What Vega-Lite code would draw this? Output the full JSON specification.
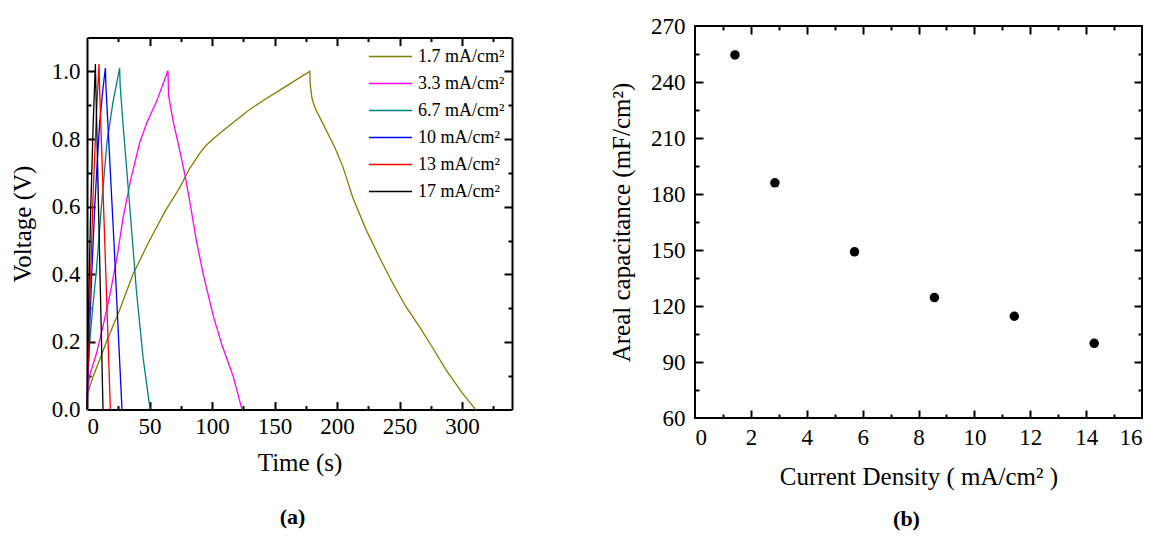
{
  "$schema": "https://vega.github.io/schema/vega-lite/v6.json",
  "padding": {"left": 10, "top": 14, "right": 5, "bottom": 5},
  "spacing": 95,
  "config": {
    "font": "Liberation Serif",
    "view": {"stroke": "black", "strokeWidth": 2},
    "axis": {
      "labelFont": "Liberation Serif", "titleFont": "Liberation Serif",
      "labelFontSize": 23, "titleFontSize": 25, "labelColor": "black", "titleColor": "black",
      "titleFontWeight": "normal", "tickColor": "black", "tickWidth": 2, "domain": false, "grid": false,
      "domainColor": "black", "domainWidth": 2
    },
    "title": {"font": "Liberation Serif", "color": "black"}
  },
  "datasets": {
    "gcd": [
      {"series": "1.7 mA/cm²", "t": 0, "v": 0}, {"series": "1.7 mA/cm²", "t": 0.5, "v": 0.04}, {"series": "1.7 mA/cm²", "t": 2.1, "v": 0.067}, {"series": "1.7 mA/cm²", "t": 4.8, "v": 0.097}, {"series": "1.7 mA/cm²", "t": 10, "v": 0.146}, {"series": "1.7 mA/cm²", "t": 15.5, "v": 0.2}, {"series": "1.7 mA/cm²", "t": 26, "v": 0.294}, {"series": "1.7 mA/cm²", "t": 36.8, "v": 0.4}, {"series": "1.7 mA/cm²", "t": 50, "v": 0.5}, {"series": "1.7 mA/cm²", "t": 63, "v": 0.59}, {"series": "1.7 mA/cm²", "t": 74, "v": 0.655}, {"series": "1.7 mA/cm²", "t": 82, "v": 0.712}, {"series": "1.7 mA/cm²", "t": 90, "v": 0.757}, {"series": "1.7 mA/cm²", "t": 95, "v": 0.78}, {"series": "1.7 mA/cm²", "t": 100.8, "v": 0.8}, {"series": "1.7 mA/cm²", "t": 108, "v": 0.822}, {"series": "1.7 mA/cm²", "t": 114, "v": 0.84}, {"series": "1.7 mA/cm²", "t": 127.5, "v": 0.88}, {"series": "1.7 mA/cm²", "t": 140, "v": 0.912}, {"series": "1.7 mA/cm²", "t": 154, "v": 0.944}, {"series": "1.7 mA/cm²", "t": 166, "v": 0.972}, {"series": "1.7 mA/cm²", "t": 178.2, "v": 1.0}, {"series": "1.7 mA/cm²", "t": 178.6, "v": 0.96}, {"series": "1.7 mA/cm²", "t": 180, "v": 0.92}, {"series": "1.7 mA/cm²", "t": 182.2, "v": 0.894}, {"series": "1.7 mA/cm²", "t": 188.8, "v": 0.845}, {"series": "1.7 mA/cm²", "t": 198.2, "v": 0.776}, {"series": "1.7 mA/cm²", "t": 204.8, "v": 0.717}, {"series": "1.7 mA/cm²", "t": 212.8, "v": 0.625}, {"series": "1.7 mA/cm²", "t": 223.5, "v": 0.53}, {"series": "1.7 mA/cm²", "t": 234, "v": 0.45}, {"series": "1.7 mA/cm²", "t": 244.8, "v": 0.372}, {"series": "1.7 mA/cm²", "t": 255, "v": 0.305}, {"series": "1.7 mA/cm²", "t": 266.2, "v": 0.244}, {"series": "1.7 mA/cm²", "t": 277, "v": 0.18}, {"series": "1.7 mA/cm²", "t": 287.5, "v": 0.116}, {"series": "1.7 mA/cm²", "t": 300, "v": 0.05}, {"series": "1.7 mA/cm²", "t": 311, "v": 0},
      {"series": "3.3 mA/cm²", "t": 0, "v": 0}, {"series": "3.3 mA/cm²", "t": 0.5, "v": 0.05}, {"series": "3.3 mA/cm²", "t": 2, "v": 0.1}, {"series": "3.3 mA/cm²", "t": 7.5, "v": 0.165}, {"series": "3.3 mA/cm²", "t": 13, "v": 0.25}, {"series": "3.3 mA/cm²", "t": 18.5, "v": 0.343}, {"series": "3.3 mA/cm²", "t": 24, "v": 0.45}, {"series": "3.3 mA/cm²", "t": 29, "v": 0.57}, {"series": "3.3 mA/cm²", "t": 35, "v": 0.68}, {"series": "3.3 mA/cm²", "t": 42.2, "v": 0.79}, {"series": "3.3 mA/cm²", "t": 48, "v": 0.85}, {"series": "3.3 mA/cm²", "t": 55.5, "v": 0.91}, {"series": "3.3 mA/cm²", "t": 64.8, "v": 1.003}, {"series": "3.3 mA/cm²", "t": 65.2, "v": 0.93}, {"series": "3.3 mA/cm²", "t": 68.8, "v": 0.855}, {"series": "3.3 mA/cm²", "t": 74.2, "v": 0.766}, {"series": "3.3 mA/cm²", "t": 78, "v": 0.7}, {"series": "3.3 mA/cm²", "t": 82, "v": 0.62}, {"series": "3.3 mA/cm²", "t": 87.5, "v": 0.5}, {"series": "3.3 mA/cm²", "t": 93, "v": 0.4}, {"series": "3.3 mA/cm²", "t": 100.8, "v": 0.28}, {"series": "3.3 mA/cm²", "t": 108, "v": 0.19}, {"series": "3.3 mA/cm²", "t": 116.8, "v": 0.1}, {"series": "3.3 mA/cm²", "t": 124, "v": 0},
      {"series": "6.7 mA/cm²", "t": 0, "v": 0}, {"series": "6.7 mA/cm²", "t": 0.8, "v": 0.1}, {"series": "6.7 mA/cm²", "t": 2.2, "v": 0.2}, {"series": "6.7 mA/cm²", "t": 4.5, "v": 0.3}, {"series": "6.7 mA/cm²", "t": 7.5, "v": 0.41}, {"series": "6.7 mA/cm²", "t": 11.5, "v": 0.6}, {"series": "6.7 mA/cm²", "t": 16, "v": 0.79}, {"series": "6.7 mA/cm²", "t": 20.8, "v": 0.91}, {"series": "6.7 mA/cm²", "t": 26.1, "v": 1.01}, {"series": "6.7 mA/cm²", "t": 26.5, "v": 0.96}, {"series": "6.7 mA/cm²", "t": 28.8, "v": 0.845}, {"series": "6.7 mA/cm²", "t": 34.2, "v": 0.6}, {"series": "6.7 mA/cm²", "t": 39.5, "v": 0.353}, {"series": "6.7 mA/cm²", "t": 44.8, "v": 0.155}, {"series": "6.7 mA/cm²", "t": 50.5, "v": 0},
      {"series": "10  mA/cm²", "t": 0, "v": 0}, {"series": "10  mA/cm²", "t": 1, "v": 0.12}, {"series": "10  mA/cm²", "t": 2.2, "v": 0.25}, {"series": "10  mA/cm²", "t": 4, "v": 0.42}, {"series": "10  mA/cm²", "t": 6.2, "v": 0.6}, {"series": "10  mA/cm²", "t": 8, "v": 0.72}, {"series": "10  mA/cm²", "t": 10.2, "v": 0.85}, {"series": "10  mA/cm²", "t": 12.5, "v": 0.94}, {"series": "10  mA/cm²", "t": 14.7, "v": 1.01}, {"series": "10  mA/cm²", "t": 15.1, "v": 0.96}, {"series": "10  mA/cm²", "t": 21.5, "v": 0.5}, {"series": "10  mA/cm²", "t": 28, "v": 0},
      {"series": "13  mA/cm²", "t": 0, "v": 0}, {"series": "13  mA/cm²", "t": 1, "v": 0.15}, {"series": "13  mA/cm²", "t": 2.5, "v": 0.35}, {"series": "13  mA/cm²", "t": 5, "v": 0.65}, {"series": "13  mA/cm²", "t": 7.5, "v": 0.87}, {"series": "13  mA/cm²", "t": 9.6, "v": 1.022}, {"series": "13  mA/cm²", "t": 10, "v": 0.96}, {"series": "13  mA/cm²", "t": 18.7, "v": 0},
      {"series": "17  mA/cm²", "t": 0, "v": 0}, {"series": "17  mA/cm²", "t": 0.5, "v": 0.15}, {"series": "17  mA/cm²", "t": 1.5, "v": 0.35}, {"series": "17  mA/cm²", "t": 3, "v": 0.6}, {"series": "17  mA/cm²", "t": 5, "v": 0.85}, {"series": "17  mA/cm²", "t": 6.7, "v": 1.022}, {"series": "17  mA/cm²", "t": 7, "v": 0.97}, {"series": "17  mA/cm²", "t": 12.8, "v": 0}
    ],
    "cap": [
      {"j": 1.43, "c": 254.5}, {"j": 2.86, "c": 186}, {"j": 5.71, "c": 149}, {"j": 8.57, "c": 124.5}, {"j": 11.43, "c": 114.5}, {"j": 14.29, "c": 100}
    ]
  },
  "hconcat": [
    {
      "width": 425, "height": 383.6,
      "data": {"name": "gcd"},
      "view": {"stroke": null},
      "title": {"text": "(a)", "orient": "bottom", "offset": 31, "dx": -7, "fontSize": 22, "fontWeight": "bold"},
      "layer": [
        {
          "mark": {"type": "line", "strokeWidth": 1.3},
          "encoding": {
            "x": {"field": "t", "type": "quantitative", "scale": {"domain": [0, 340], "nice": false, "zero": false},
                  "axis": {"orient": "bottom", "title": "Time (s)", "values": [0, 50, 100, 150, 200, 250, 300], "ticks": false, "domain": true, "labelPadding": 6, "titlePadding": 12,
                           "labelFont": "Liberation Serif", "labelFontSize": 23, "titleFont": "Liberation Serif", "titleFontSize": 25}},
            "y": {"field": "v", "type": "quantitative", "scale": {"domain": [0, 1.1], "range": [383.6, 11.6], "nice": false},
                  "axis": {"orient": "left", "title": "Voltage (V)", "values": [0, 0.2, 0.4, 0.6, 0.8, 1.0], "format": ".1f", "ticks": false, "domain": true, "labelPadding": 7, "titlePadding": 15.3,
                           "labelFont": "Liberation Serif", "labelFontSize": 23, "titleFont": "Liberation Serif", "titleFontSize": 25}},
            "color": {"field": "series", "type": "nominal",
                      "scale": {"domain": ["1.7 mA/cm²", "3.3 mA/cm²", "6.7 mA/cm²", "10  mA/cm²", "13  mA/cm²", "17  mA/cm²"],
                                "range": ["#808000", "#ff00ff", "#008080", "#0000ff", "#ff0000", "#000000"]},
                      "legend": {"title": null, "orient": "none", "legendX": 281, "legendY": 17, "symbolType": "stroke", "symbolSize": 1849, "symbolStrokeWidth": 1.3,
                                 "labelFontSize": 18, "labelFont": "Liberation Serif", "labelColor": "black", "labelOffset": 5, "rowPadding": 0, "clipHeight": 27, "padding": 0, "symbolOffset": 0, "labelLimit": 200}}
          }
        },
        {
          "mark": {"type": "line", "opacity": 0},
          "encoding": {
            "x": {"field": "t", "type": "quantitative", "scale": {"domain": [0, 340], "nice": false, "zero": false},
                  "axis": {"orient": "bottom", "title": null, "labels": false, "values": [25, 50, 75, 100, 125, 150, 175, 200, 225, 250, 275, 300, 325],
                           "tickSize": {"condition": {"test": "datum.value % 50 === 0", "value": -8}, "value": -4}}},
            "y": {"field": "v", "type": "quantitative", "scale": {"domain": [0, 1.1], "range": [383.6, 11.6], "nice": false},
                  "axis": {"orient": "left", "title": null, "labels": false, "values": [0.1, 0.2, 0.3, 0.4, 0.5, 0.6, 0.7, 0.8, 0.9, 1.0],
                           "tickSize": {"condition": {"test": "round(datum.value * 10) % 2 === 0", "value": -8}, "value": -4}}}
          }
        },
        {
          "mark": {"type": "line", "opacity": 0},
          "encoding": {
            "x": {"field": "t", "type": "quantitative", "scale": {"domain": [0, 340], "nice": false, "zero": false},
                  "axis": {"orient": "top", "offset": -11.6, "title": null, "labels": false, "domain": true, "values": [25, 50, 75, 100, 125, 150, 175, 200, 225, 250, 275, 300, 325],
                           "tickSize": {"condition": {"test": "datum.value % 50 === 0", "value": -8}, "value": -4}}},
            "y": {"field": "v", "type": "quantitative", "scale": {"domain": [0, 1.1], "range": [383.6, 11.6], "nice": false},
                  "axis": {"orient": "right", "title": null, "labels": false, "domain": true, "values": [0.1, 0.2, 0.3, 0.4, 0.5, 0.6, 0.7, 0.8, 0.9, 1.0],
                           "tickSize": {"condition": {"test": "round(datum.value * 10) % 2 === 0", "value": -8}, "value": -4}}}
          }
        }
      ],
      "resolve": {"axis": {"x": "independent", "y": "independent"}}
    },
    {
      "width": 447, "height": 392,
      "data": {"name": "cap"},
      "title": {"text": "(b)", "orient": "bottom", "offset": 20, "dx": -12, "fontSize": 22, "fontWeight": "bold"},
      "layer": [
        {
          "mark": {"type": "point", "filled": true, "color": "black", "size": 90, "opacity": 1},
          "encoding": {
            "x": {"field": "j", "type": "quantitative", "scale": {"domain": [0, 16], "nice": false},
                  "axis": {"orient": "bottom", "title": "Current Density ( mA/cm² )", "values": [0, 2, 4, 6, 8, 10, 12, 14, 16], "ticks": false, "labelPadding": 8, "titlePadding": 15,
                           "labelFont": "Liberation Serif", "labelFontSize": 23, "titleFont": "Liberation Serif", "titleFontSize": 25}},
            "y": {"field": "c", "type": "quantitative", "scale": {"domain": [60, 270], "nice": false, "zero": false},
                  "axis": {"orient": "left", "title": "Areal capacitance (mF/cm²)", "values": [60, 90, 120, 150, 180, 210, 240, 270], "ticks": false, "labelPadding": 10, "titlePadding": 16,
                           "labelFont": "Liberation Serif", "labelFontSize": 23, "titleFont": "Liberation Serif", "titleFontSize": 25}}
          }
        },
        {
          "mark": {"type": "point", "opacity": 0},
          "encoding": {
            "x": {"field": "j", "type": "quantitative", "scale": {"domain": [0, 16], "nice": false},
                  "axis": {"orient": "bottom", "title": null, "labels": false, "values": [1, 2, 3, 4, 5, 6, 7, 8, 9, 10, 11, 12, 13, 14, 15],
                           "tickSize": {"condition": {"test": "datum.value % 2 === 0", "value": -8}, "value": -4}}},
            "y": {"field": "c", "type": "quantitative", "scale": {"domain": [60, 270], "nice": false, "zero": false},
                  "axis": {"orient": "left", "title": null, "labels": false, "values": [75, 90, 105, 120, 135, 150, 165, 180, 195, 210, 225, 240, 255],
                           "tickSize": {"condition": {"test": "datum.value % 30 === 0", "value": -8}, "value": -4}}}
          }
        },
        {
          "mark": {"type": "point", "opacity": 0},
          "encoding": {
            "x": {"field": "j", "type": "quantitative", "scale": {"domain": [0, 16], "nice": false},
                  "axis": {"orient": "top", "title": null, "labels": false, "values": [1, 2, 3, 4, 5, 6, 7, 8, 9, 10, 11, 12, 13, 14, 15],
                           "tickSize": {"condition": {"test": "datum.value % 2 === 0", "value": -8}, "value": -4}}},
            "y": {"field": "c", "type": "quantitative", "scale": {"domain": [60, 270], "nice": false, "zero": false},
                  "axis": {"orient": "right", "title": null, "labels": false, "values": [75, 90, 105, 120, 135, 150, 165, 180, 195, 210, 225, 240, 255],
                           "tickSize": {"condition": {"test": "datum.value % 30 === 0", "value": -8}, "value": -4}}}
          }
        }
      ],
      "resolve": {"axis": {"x": "independent", "y": "independent"}}
    }
  ]
}
